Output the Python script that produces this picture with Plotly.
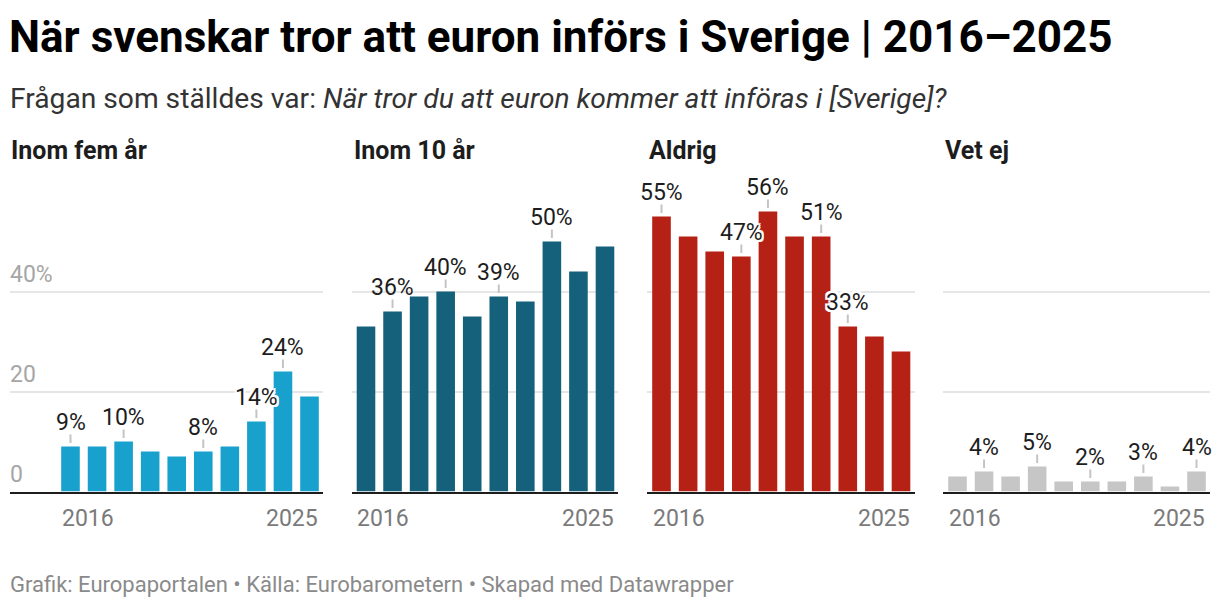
import plotly.graph_objects as go

W, H = 1220, 608

years = list(range(2016, 2026))
inom5 = [9, 9, 10, 8, 7, 8, 9, 14, 24, 19]
inom10 = [33, 36, 39, 40, 35, 39, 38, 50, 44, 49]
aldrig = [55, 51, 48, 47, 56, 51, 51, 33, 31, 28]
vetej = [3, 4, 3, 5, 2, 2, 2, 3, 1, 4]

panel_titles = ["Inom fem år", "Inom 10 år", "Aldrig", "Vet ej"]
panel_colors = ["#19a1cd", "#15607a", "#b52215", "#c6c6c6"]
labeled_years = [
    [2016, 2018, 2021, 2023, 2024],
    [2017, 2019, 2021, 2023],
    [2016, 2019, 2020, 2022, 2023],
    [2017, 2019, 2021, 2023, 2025],
]
halo_years = [[2023], [], [2019, 2023], []]
ytick_vals = [0, 20, 40]
ytick_text = ["0", "20", "40%"]
series = [inom5, inom10, aldrig, vetej]

# layout geometry (pixels)
panel_px = [(10, 323), (352, 618), (647, 915), (943, 1210)]
panel_range = [(2013.722, 2025.508), (2015.473, 2025.49), (2015.455, 2025.526), (2015.454, 2025.508)]
y_top_px, y_bot_px = 171.5, 491.5
y_max = 64
px_per_unit = (y_bot_px - y_top_px) / y_max

def px(x):
    return x / W

def py(y):
    return 1 - y / H

fig = go.Figure()
annotations = []
FONT = "Roboto"
HALO = ("2px 0 0 #fff, -2px 0 0 #fff, 0 2px 0 #fff, 0 -2px 0 #fff, "
        "2px 2px 0 #fff, -2px -2px 0 #fff, 2px -2px 0 #fff, -2px 2px 0 #fff")

for i, (vals, col) in enumerate(zip(series, panel_colors)):
    n = "" if i == 0 else str(i + 1)
    xa, ya = "x" + n, "y" + n
    fig.add_trace(go.Bar(x=years, y=vals, width=0.7, marker=dict(color=col, line=dict(width=0)),
                         xaxis=xa, yaxis=ya, hoverinfo="skip", showlegend=False))
    # small tick lines above labelled bars
    tx, ty = [], []
    for yr, v in zip(years, vals):
        if yr in labeled_years[i]:
            tx += [yr, yr, None]
            ty += [v + 3.5 / px_per_unit, v + 12 / px_per_unit, None]
    fig.add_trace(go.Scatter(x=tx, y=ty, mode="lines", line=dict(color="#c4c4c4", width=2),
                             xaxis=xa, yaxis=ya, hoverinfo="skip", showlegend=False,
                             cliponaxis=False))
    x0, x1 = panel_px[i]
    fig.layout["xaxis" + n] = dict(domain=[px(x0), px(x1)], range=list(panel_range[i]),
                                   showgrid=False, zeroline=False, showticklabels=False,
                                   showline=True, linecolor="#1d1d1d", linewidth=2,
                                   anchor=ya, fixedrange=True)
    fig.layout["yaxis" + n] = dict(domain=[py(y_bot_px), py(y_top_px)], range=[0, y_max],
                                   tickvals=[20, 40], showticklabels=False, showgrid=True,
                                   gridcolor="#e6e6e6", gridwidth=1.5, zeroline=False,
                                   anchor=xa, fixedrange=True)
    # panel title
    annotations.append(dict(xref="paper", yref="paper", x=px(x0 - 1 + (1 if i else 0)), y=py(150),
                            xanchor="left", yanchor="middle", showarrow=False,
                            text="<b>" + panel_titles[i] + "</b>",
                            font=dict(family=FONT, size=25, color="#1d1d1d")))
    # year labels
    annotations.append(dict(xref=xa, yref=ya, x=years[0] - 0.4, y=0, yshift=-27,
                            xanchor="left", yanchor="middle", showarrow=False,
                            text=str(years[0]), font=dict(family=FONT, size=23, color="#7a7a7a")))
    annotations.append(dict(xref=xa, yref=ya, x=years[-1] + 0.4, y=0, yshift=-27,
                            xanchor="right", yanchor="middle", showarrow=False,
                            text=str(years[-1]), font=dict(family=FONT, size=23, color="#7a7a7a")))
    # value labels
    for yr, v in zip(years, vals):
        if yr in labeled_years[i]:
            f = dict(family=FONT, size=23, color="#1d1d1d")
            if yr in halo_years[i]:
                f["shadow"] = HALO
            annotations.append(dict(xref=xa, yref=ya, x=yr, y=v, yshift=9, text=f"{v}%",
                                    xanchor="center", yanchor="bottom", showarrow=False,
                                    font=f))

# y tick labels (first panel only)
for v, t in zip(ytick_vals, ytick_text):
    annotations.append(dict(xref="paper", yref="y", x=px(8), y=v, yshift=2,
                            xanchor="left", yanchor="bottom", showarrow=False, text=t,
                            font=dict(family=FONT, size=23, color="#a6a6a6")))

# titles and footer
annotations.append(dict(xref="paper", yref="paper", x=px(7), y=py(37), xanchor="left", yanchor="middle",
                        showarrow=False, text="<b>När svenskar tror att euron införs i Sverige | 2016–2025</b>",
                        font=dict(family=FONT, size=44, color="#000000")))
annotations.append(dict(xref="paper", yref="paper", x=px(8), y=py(98), xanchor="left", yanchor="middle",
                        showarrow=False,
                        text="Frågan som ställdes var: <i>När tror du att euron kommer att införas i [Sverige]?</i>",
                        font=dict(family=FONT, size=28.2, color="#333333")))
annotations.append(dict(xref="paper", yref="paper", x=px(8), y=py(584), xanchor="left", yanchor="middle",
                        showarrow=False,
                        text="Grafik: Europaportalen • Källa: Eurobarometern • Skapad med Datawrapper",
                        font=dict(family=FONT, size=22, color="#8a8a8a")))

fig.update_layout(width=W, height=H, margin=dict(l=0, r=0, t=0, b=0),
                  paper_bgcolor="white", plot_bgcolor="white", annotations=annotations,
                  bargap=0.3, font=dict(family=FONT))

fig.write_html("out.html", config={"displayModeBar": False},
               post_script="document.body.style.margin='0';document.body.style.overflow='hidden';")
